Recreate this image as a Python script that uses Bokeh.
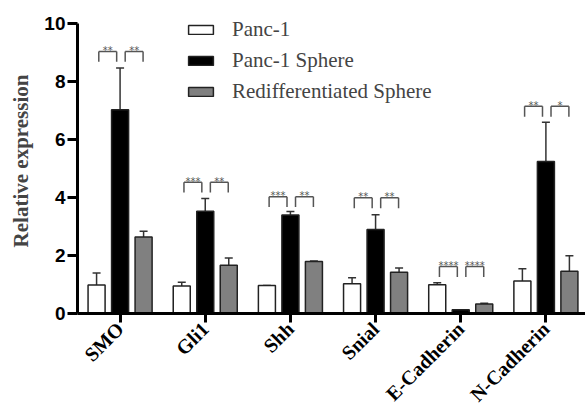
import math
from bokeh.plotting import figure
from bokeh.models import (ColumnDataSource, Range1d, Whisker, TeeHead,
                          Legend, LegendItem, FixedTicker)
from bokeh.transform import dodge
from bokeh.core.properties import value
from bokeh.embed import file_html
from bokeh.resources import INLINE

# ---- data ----
genes = ["SMO", "Gli1", "Shh", "Snial", "E-Cadherin", "N-Cadherin"]
series_names = ["Panc-1", "Panc-1 Sphere", "Redifferentiated Sphere"]
panc1 = [0.98, 0.95, 0.97, 1.03, 0.99, 1.12]
panc1_err = [0.42, 0.13, 0.0, 0.20, 0.07, 0.42]
sphere = [7.03, 3.53, 3.40, 2.90, 0.13, 5.24]
sphere_err = [1.44, 0.44, 0.12, 0.51, 0.0, 1.36]
redif = [2.64, 1.66, 1.79, 1.42, 0.33, 1.46]
redif_err = [0.20, 0.25, 0.02, 0.15, 0.02, 0.53]
bracket_top = [9.04, 4.53, 4.03, 3.99, 1.62, 7.15]
stars_left = ["**", "***", "***", "**", "****", "**"]
stars_right = ["**", "**", "**", "**", "****", "*"]
y_ticks = [0, 2, 4, 6, 8, 10]

BAR_W = 0.2
OFFS = [-0.276, 0.0, 0.276]
LEG = 0.36

xc = [i + 0.5 for i in range(len(genes))]   # category centres

src = ColumnDataSource(dict(
    gene=genes, xc=xc,
    p1=panc1, p1_up=[v + e for v, e in zip(panc1, panc1_err)],
    sp=sphere, sp_up=[v + e for v, e in zip(sphere, sphere_err)],
    rd=redif, rd_up=[v + e for v, e in zip(redif, redif_err)],
    btop=bracket_top, bleg=[b - LEG for b in bracket_top],
    sl=stars_left, sr=stars_right,
))

p = figure(width=585, height=417, x_range=Range1d(0, 5.965),
           y_range=Range1d(0, 10.52), output_backend="svg", toolbar_location=None,
           min_border_left=77, min_border_right=0, min_border_top=8,
           min_border_bottom=104)
p.outline_line_color = None
p.xgrid.grid_line_color = None
p.ygrid.grid_line_color = None
p.background_fill_color = "white"

colors = ["white", "black", "#808080"]
fields = [("p1", "p1_up"), ("sp", "sp_up"), ("rd", "rd_up")]
renderers = []
for off, col, (f, fu) in zip(OFFS, colors, fields):
    r = p.vbar(x=dodge("xc", off), top=f, width=BAR_W, source=src,
               fill_color=col, line_color="#222222", line_width=1.5)
    renderers.append(r)
    w = Whisker(base=dodge("xc", off), lower=f, upper=fu, source=src,
                dimension="height", line_color="#333333", line_width=1.5,
                lower_head=None, upper_head=TeeHead(size=8, line_color="#333333", line_width=1.5))
    p.add_layout(w)

# significance brackets
for a, b, sf in [(-0.25, -0.04, "sl"), (0.06, 0.27, "sr")]:
    xa = dodge("xc", a)
    xb = dodge("xc", b)
    kw = dict(source=src, line_color="#555555", line_width=1.5)
    p.segment(x0=xa, x1=xb, y0="btop", y1="btop", **kw)
    p.segment(x0=xa, x1=xa, y0="btop", y1="bleg", **kw)
    p.segment(x0=xb, x1=xb, y0="btop", y1="bleg", **kw)
    p.text(x=dodge("xc", (a + b) / 2), y="btop", text=sf, source=src,
           text_font=value("DejaVu Sans"), text_font_size="10px", text_color="#555555",
           text_align="center", text_baseline="alphabetic", y_offset=-1)

# axes
p.yaxis.ticker = FixedTicker(ticks=y_ticks)
p.yaxis.bounds = (0, 10)
p.yaxis.minor_tick_line_color = None
p.yaxis.axis_line_width = 3
p.yaxis.major_tick_line_width = 3
p.yaxis.major_tick_out = 10
p.yaxis.major_tick_in = 0
p.yaxis.major_label_text_font = "Liberation Sans"
p.yaxis.major_label_text_font_style = "bold"
p.yaxis.major_label_text_font_size = "19px"
p.yaxis.major_label_text_color = "black"
p.yaxis.major_label_standoff = 2
p.yaxis.axis_label = "Relative expression"
p.yaxis.axis_label_text_font = "Liberation Serif"
p.yaxis.axis_label_text_font_style = "bold"
p.yaxis.axis_label_text_font_size = "21px"
p.yaxis.axis_label_standoff = 8

p.xaxis.ticker = FixedTicker(ticks=xc)
p.xaxis.major_label_overrides = {x: g for x, g in zip(xc, genes)}
p.xaxis.minor_tick_line_color = None
p.xaxis.axis_line_width = 3
p.xaxis.major_tick_line_width = 3
p.xaxis.major_tick_out = 9
p.xaxis.major_tick_in = 0
p.xaxis.major_label_orientation = math.pi / 4
p.xaxis.major_label_text_font = "Liberation Serif"
p.xaxis.major_label_text_font_style = "bold"
p.xaxis.major_label_text_font_size = "20px"
p.xaxis.major_label_text_color = "black"
p.xaxis.major_label_standoff = 3

legend = Legend(items=[LegendItem(label=n, renderers=[r]) for n, r in zip(series_names, renderers)],
                location=(108, 209), padding=0, margin=0, border_line_color=None,
                background_fill_alpha=0, glyph_width=31, glyph_height=11,
                label_text_font="Liberation Serif", label_text_font_size="21px",
                label_standoff=16, spacing=6, label_height=20)
p.add_layout(legend)

open("out.html", "w").write(file_html(p, INLINE))
